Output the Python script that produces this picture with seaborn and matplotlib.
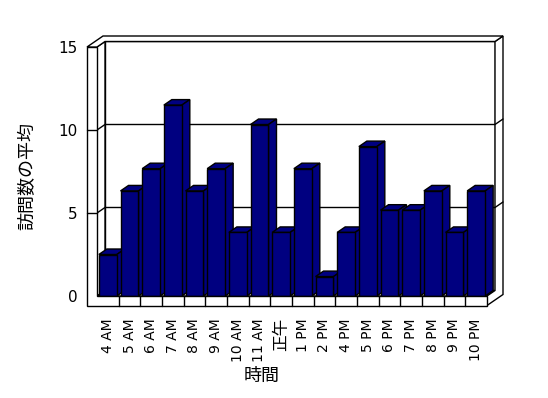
import numpy as np
import pandas as pd
import seaborn as sns
from matplotlib import pyplot as plt
from matplotlib.patches import Polygon

# Chart data
hours = ["4 AM", "5 AM", "6 AM", "7 AM", "8 AM", "9 AM", "10 AM", "11 AM", "正午",
         "1 PM", "2 PM", "4 PM", "5 PM", "6 PM", "7 PM", "8 PM", "9 PM", "10 PM"]
avg_visits = [2.5, 6.33, 7.67, 11.5, 6.33, 7.67, 3.83, 10.33, 3.83,
              7.67, 1.17, 3.83, 9.0, 5.17, 5.17, 6.33, 3.83, 6.33]
y_ticks = [0, 5, 10, 15]

sns.set_theme(style="white")
plt.rcParams['font.family'] = ['DejaVu Sans', 'Noto Sans CJK JP']

W, H = 548, 398
fig = plt.figure(figsize=(W / 100, H / 100), dpi=100)
ax = fig.add_axes([97 / W, 102 / H, 390 / W, 249 / H])

n = len(hours)
ymax = 15
px_x = 390 / n        # pixels per category
px_y = 249 / ymax     # pixels per value unit
# oblique depth vector (one "depth" = plot depth)
DX = 8 / px_x
DY = 5.5 / px_y
xl0 = -0.5 - 10 / px_x   # left wall thickness
yb = -9.5 / px_y         # floor thickness
xr = n - 0.5


def P(x, y, d):
    return (x + d * DX, y + d * DY)


def face(pts, z, fc="white"):
    ax.add_patch(Polygon(pts, closed=True, facecolor=fc, edgecolor="black",
                         linewidth=1, zorder=z, clip_on=False))


def seg(pts, z):
    xs, ys = zip(*pts)
    ax.plot(xs, ys, color="black", linewidth=1, zorder=z, clip_on=False)


# Back wall, left inner wall, floor top
face([P(-0.5, 0, 1), P(xr, 0, 1), P(xr, ymax, 1), P(-0.5, ymax, 1)], 1)
face([P(-0.5, 0, 0), P(-0.5, 0, 1), P(-0.5, ymax, 1), P(-0.5, ymax, 0)], 1)
face([P(-0.5, 0, 0), P(xr, 0, 0), P(xr, 0, 1), P(-0.5, 0, 1)], 1)
# right side of back wall + floor
face([P(xr, yb, 0), P(xr, yb, 2), P(xr, ymax, 2), P(xr, ymax, 1),
      P(xr, 0, 1), P(xr, 0, 0)], 2)

# Gridlines
for g in y_ticks[1:-1]:
    seg([P(-0.5, g, 0), P(-0.5, g, 1), P(xr, g, 1)], 1.5)
    seg([P(xr, g, 1), P(xr, g, 2)], 2.1)

# Bars
df = pd.DataFrame({"時間": hours, "訪問数の平均": avg_visits})
sns.barplot(data=df, x="時間", y="訪問数の平均", color="#000080", saturation=1,
            width=0.83, edgecolor="black", linewidth=1, ax=ax)
for i, p in enumerate(ax.patches):
    if not isinstance(p, plt.Rectangle):
        continue
    x0 = p.get_x()
    x1 = x0 + p.get_width()
    h = p.get_height()
    z = 3 + i * 0.01
    face([P(x0, h, 0), P(x1, h, 0), P(x1, h, 1), P(x0, h, 1)], z, "#000080")
    face([P(x1, 0, 0), P(x1, 0, 1), P(x1, h, 1), P(x1, h, 0)], z, "#000080")
    p.set_zorder(z + 0.005)

# Front of left wall + floor, and top of walls
face([(xl0, yb), (xr, yb), (xr, 0), (-0.5, 0), (-0.5, ymax), (xl0, ymax)], 10)
face([P(xl0, ymax, 0), P(-0.5, ymax, 0), P(-0.5, ymax, 1), P(xr, ymax, 1),
      P(xr, ymax, 2), P(xl0, ymax, 2)], 10)
for g in y_ticks[1:-1]:
    seg([(xl0, g), (-0.5, g)], 10.1)
for k in range(1, n):
    seg([(k - 0.5, yb), (k - 0.5, 0)], 10.1)

ax.set_xlim(-0.5, xr)
ax.set_ylim(0, ymax)
ax.set_yticks(y_ticks)
ax.set_xticks(range(n))
ax.set_xticklabels(hours, rotation=90)
ax.tick_params(axis="x", length=0, pad=16, labelsize=10, colors="black")
ax.tick_params(axis="y", length=0, pad=14, labelsize=11, colors="black")
# the CJK label looks bigger in the original
for lab in ax.get_xticklabels():
    if lab.get_text() == "正午":
        lab.set_fontsize(12)
sns.despine(ax=ax, left=True, bottom=True)
ax.patch.set_alpha(0)

ax.set_xlabel("時間", fontsize=13, color="black")
ax.set_ylabel("訪問数の平均", fontsize=13, color="black")
ax.xaxis.set_label_coords((262 - 97) / 390, (296 - 367) / 249)
ax.yaxis.set_label_coords((36 - 97) / 390, (296 - 176) / 249)

plt.savefig("out.png", dpi=100)
